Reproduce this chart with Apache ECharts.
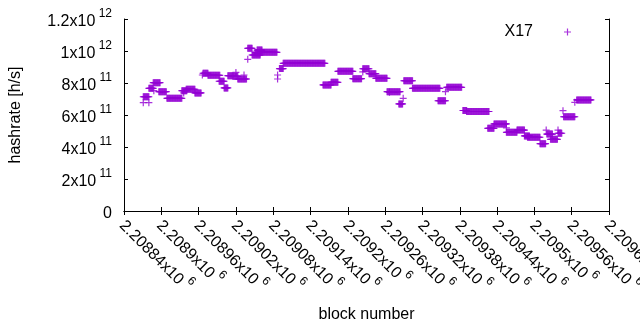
<!DOCTYPE html>
<html>
<head>
<meta charset="utf-8">
<script src="https://cdn.jsdelivr.net/npm/echarts@6/dist/echarts.min.js"></script>
<style>
  html, body { margin: 0; padding: 0; background: #fff; }
  #main { width: 640px; height: 330px; }
</style>
</head>
<body>
<div id="main"></div>
<script>
// hashrate runs: first block, last block, hashrate (h/s)
var runFirst = [2208871, 2208880, 2208871, 2208880, 2208888, 2208887, 2208896, 2208909, 2208933, 2208936,
  2208940, 2208954, 2208966, 2208967, 2208975, 2208993, 2209001, 2209007, 2209015, 2209020,
  2209023, 2209033, 2209039, 2209039, 2209046, 2209051, 2209054, 2209060, 2209087, 2209087,
  2209090, 2209096, 2209160, 2209173, 2209184, 2209208, 2209224, 2209224, 2209234, 2209245,
  2209263, 2209267, 2209282, 2209289, 2209290, 2209304, 2209345, 2209357, 2209359, 2209385,
  2209391, 2209425, 2209435, 2209455, 2209455, 2209472, 2209484, 2209489, 2209509, 2209519,
  2209520, 2209526, 2209538, 2209538, 2209546, 2209547, 2209565, 2209568];
var runLast = [2208871, 2208880, 2208880, 2208887, 2208888, 2208898, 2208908, 2208933, 2208941, 2208936,
  2208954, 2208964, 2208966, 2208975, 2208994, 2209001, 2209007, 2209015, 2209023, 2209020,
  2209037, 2209033, 2209039, 2209046, 2209059, 2209059, 2209062, 2209086, 2209087, 2209087,
  2209096, 2209163, 2209173, 2209184, 2209208, 2209222, 2209234, 2209224, 2209245, 2209263,
  2209284, 2209267, 2209288, 2209289, 2209304, 2209348, 2209357, 2209357, 2209383, 2209391,
  2209427, 2209435, 2209455, 2209472, 2209455, 2209484, 2209492, 2209509, 2209518, 2209519,
  2209529, 2209537, 2209544, 2209538, 2209546, 2209565, 2209565, 2209591];
var runHashrate = [6.77e11, 6.77e11, 7.14e11, 7.67e11, 7.52e11, 8.02e11, 7.46e11, 7.04e11, 7.52e11, 7.38e11,
  7.61e11, 7.38e11, 8.50e11, 8.61e11, 8.48e11, 8.11e11, 7.69e11, 8.46e11, 8.42e11, 8.66e11,
  8.25e11, 8.50e11, 9.48e11, 1.017e12, 9.75e11, 9.89e11, 1.006e12, 9.92e11, 8.25e11, 8.50e11,
  8.90e11, 9.23e11, 7.88e11, 8.04e11, 8.73e11, 8.27e11, 8.89e11, 8.69e11, 8.58e11, 8.29e11,
  7.46e11, 7.42e11, 6.69e11, 7.04e11, 8.14e11, 7.67e11, 6.89e11, 7.46e11, 7.73e11, 6.28e11,
  6.22e11, 5.17e11, 5.44e11, 4.92e11, 5.19e11, 5.06e11, 4.69e11, 4.61e11, 4.21e11, 5.06e11,
  4.81e11, 4.48e11, 4.86e11, 5.06e11, 6.27e11, 5.89e11, 6.79e11, 6.94e11];

// axis ranges / ticks
var xMin = 2208840, xMax = 2209620, xStep = 60;
var yMin = 0, yMax = 1.2e12, yStep = 2e11;

// one point per block in each run
var points = [];
for (var i = 0; i < runFirst.length; i++) {
  for (var b = runFirst[i]; b <= runLast[i]; b++) {
    points.push([b, runHashrate[i]]);
  }
}

var plus = 'path://M0,2.9H7V4.1H0Z M2.9,0H4.1V7H2.9Z';
var purple = '#9400d3';
var font = 'Liberation Sans';

// gnuplot style "1.2x10^12"
function sciLabel(v) {
  if (v === 0) return '{m|0}';
  var e = Math.floor(Math.log10(v) + 1e-9);
  var m = parseFloat((v / Math.pow(10, e)).toFixed(6));
  return '{m|' + m + 'x10}{s| ' + e + '}';
}
var rich = {
  m: { fontSize: 16, lineHeight: 22, verticalAlign: 'bottom', fontFamily: font, color: '#000' },
  s: { fontSize: 12, lineHeight: 12, verticalAlign: 'top', fontFamily: font, color: '#000' }
};

var myChart = echarts.init(document.getElementById('main'));
var option = {
  animation: false,
  backgroundColor: '#fff',
  textStyle: { fontFamily: font, color: '#000' },
  grid: { left: 124, right: 31, top: 19, bottom: 119, containLabel: false, outerBoundsMode: 'none' },
  legend: {
    data: ['X17'],
    right: 69,
    top: 24,
    padding: 0,
    align: 'right',
    icon: plus,
    itemWidth: 7,
    itemHeight: 7,
    textStyle: { fontSize: 16, fontFamily: font, color: '#000', padding: [0, 26, 0, 0] }
  },
  xAxis: [{
    type: 'value',
    min: xMin, max: xMax, interval: xStep,
    name: 'block number',
    nameLocation: 'middle',
    nameGap: 96,
    nameTextStyle: { fontSize: 16, fontFamily: font, color: '#000' },
    axisLine: { lineStyle: { color: '#000', width: 1 } },
    axisTick: { inside: true, length: 4, lineStyle: { color: '#000' } },
    splitLine: { show: false },
    axisLabel: {
      rotate: -45, margin: 10, formatter: sciLabel, rich: rich,
      showMinLabel: true, showMaxLabel: true
    }
  }, {
    type: 'value', position: 'top',
    min: xMin, max: xMax, interval: xStep,
    axisLine: { lineStyle: { color: '#000', width: 1 } },
    axisTick: { inside: true, length: 4, lineStyle: { color: '#000' } },
    axisLabel: { show: false },
    splitLine: { show: false }
  }],
  yAxis: [{
    type: 'value',
    min: yMin, max: yMax, interval: yStep,
    name: 'hashrate [h/s]',
    nameLocation: 'middle',
    nameGap: 100,
    nameTextStyle: { fontSize: 16, fontFamily: font, color: '#000' },
    axisLine: { show: true, lineStyle: { color: '#000', width: 1 } },
    axisTick: { show: true, inside: true, length: 4, lineStyle: { color: '#000' } },
    splitLine: { show: false },
    axisLabel: { margin: 12, formatter: sciLabel, rich: rich }
  }, {
    type: 'value', position: 'right',
    min: yMin, max: yMax, interval: yStep,
    axisLine: { show: true, lineStyle: { color: '#000', width: 1 } },
    axisTick: { show: true, inside: true, length: 4, lineStyle: { color: '#000' } },
    axisLabel: { show: false },
    splitLine: { show: false }
  }],
  series: [{
    name: 'X17',
    type: 'scatter',
    symbol: plus,
    symbolSize: 7,
    itemStyle: { color: purple, borderWidth: 0 },
    data: points
  }]
};
myChart.setOption(option);
</script>
</body>
</html>
